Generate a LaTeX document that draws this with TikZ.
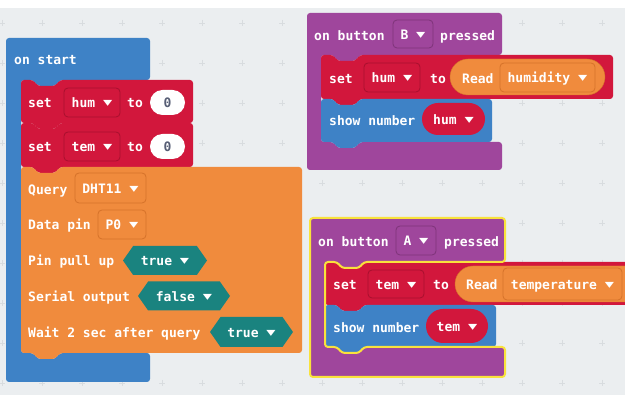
\documentclass[tikz,border=0pt]{standalone}
\usepackage{fontspec}
\setmainfont{DejaVu Sans Mono}
\newfontfamily\arrfont{DejaVu Sans}
\usetikzlibrary{shapes.misc,shapes.symbols}

\definecolor{canvas}{HTML}{EBEEF0}
\definecolor{gridc}{HTML}{D8DCDF}
\definecolor{basicblue}{HTML}{3E82C6}
\definecolor{varred}{HTML}{D2173C}
\definecolor{varredd}{HTML}{A8102E}
\definecolor{dhtorange}{HTML}{F08B3D}
\definecolor{dhtoranged}{HTML}{D5722A}
\definecolor{inpurple}{HTML}{9F469C}
\definecolor{inpurpled}{HTML}{7E3479}
\definecolor{logicteal}{HTML}{1A837F}
\definecolor{selyellow}{HTML}{F9E23C}
\definecolor{valgray}{HTML}{575E75}

\newcommand{\ddarr}{\raisebox{1pt}{\scalebox{1.15}[0.75]{\arrfont\fontsize{16}{15}\selectfont ▾}}}

% stack block: colour, left, top, right, bottom
\newcommand{\stackblock}[5]{%
  \fill[#1, rounded corners=3pt] (#2,{#3+10}) -- (#2,#3) -- ({#2+12},#3) -- ({#2+17},{#3+6})
    -- ({#2+34},{#3+6}) -- ({#2+39},#3) -- (#4,#3) -- (#4,#5) -- ({#2+39},#5)
    -- ({#2+34},{#5+6}) -- ({#2+17},{#5+6}) -- ({#2+12},#5) -- (#2,#5) -- cycle;}

% event block: options, left, top, right, bar bottom, spine, lower bar top, bottom
\newcommand{\hatblock}[8]{%
  \path[#1, rounded corners=3pt] (#2,{#3+10}) -- (#2,#3) -- (#4,#3) -- (#4,#5) -- ({#6+39},#5)
    -- ({#6+34},{#5+6}) -- ({#6+17},{#5+6}) -- ({#6+12},#5) -- (#6,#5) -- (#6,#7)
    -- ({#6+12},#7) -- ({#6+17},{#7+6}) -- ({#6+34},{#7+6}) -- ({#6+39},#7) -- (#4,#7)
    -- (#4,#8) -- (#2,#8) -- cycle;}

\tikzstyle{lbl} = [text=white, inner sep=0pt, anchor=west]
\tikzstyle{dd} = [rectangle, rounded corners=4pt, line width=0.8pt, text=white,
    inner sep=0pt, minimum height=29pt]
\tikzstyle{pill} = [rounded rectangle, inner sep=0pt, text=white, minimum height=32pt]
\tikzstyle{hexv} = [signal, signal to=east and west, signal pointer angle=110,
    fill=logicteal, text=white, inner sep=0pt, minimum height=29pt]

\begin{document}
\begin{tikzpicture}[x=1pt,y=-1pt,font=\fontsize{13}{15}\selectfont\bfseries,
                    every node/.style={text height=12pt,text depth=1pt}]
  \useasboundingbox (0,0) rectangle (625,395);
  \fill[white] (0,0) rectangle (625,395);
  \fill[canvas] (0,8) rectangle (625,395);
  \foreach \gx in {0,...,15}
    \foreach \gy in {0,...,9}
      \draw[gridc, line width=0.8pt] ({-1+40*\gx},{23+40*\gy}) -- ++(6,0)
                                     ({2+40*\gx},{20+40*\gy}) -- ++(0,6);

  % on start
  \hatblock{fill=basicblue}{6}{38}{150}{80}{21}{353}{382}
  \stackblock{varred}{21}{80}{193}{123}
  \stackblock{varred}{21}{123}{193}{167}
  \stackblock{dhtorange}{21}{167}{302}{353}

  \node[lbl] (onstart) at (14,59) {on start};
  \node[lbl] (sethum) at (28,102) {set};
  \node[dd, fill=varred, draw=varredd, minimum width=56pt] (humvar) at (92,102.5) {hum \ddarr};
  \node[lbl] (tohum) at (127,102) {to};
  \node[pill, fill=white, text=valgray, minimum width=35pt, minimum height=25pt] (humzero) at (167.5,102.5) {0};
  \node[lbl] (settem) at (28,146) {set};
  \node[dd, fill=varred, draw=varredd, minimum width=56pt] (temvar) at (92,146.5) {tem \ddarr};
  \node[lbl] (totem) at (127,146) {to};
  \node[pill, fill=white, text=valgray, minimum width=35pt, minimum height=25pt] (temzero) at (167.5,146.5) {0};

  \node[lbl] (query) at (28,189) {Query};
  \node[dd, fill=dhtorange, draw=dhtoranged, minimum width=71pt, minimum height=30pt] (dhtsel) at (110.5,188) {DHT11 \ddarr};
  \node[lbl] (datapin) at (28,224) {Data pin};
  \node[dd, fill=dhtorange, draw=dhtoranged, minimum width=48pt] (pinsel) at (122,224.5) {P0 \ddarr};
  \node[lbl] (pullup) at (28,260) {Pin pull up};
  \node[hexv, minimum width=84pt] (pullval) at (165,260.5) {true \ddarr};
  \node[lbl] (serial) at (28,296) {Serial output};
  \node[hexv, minimum width=92pt] (serialval) at (184,296) {false \ddarr};
  \node[lbl] (waitq) at (28,332) {Wait 2 sec after query};
  \node[hexv, minimum width=83pt, minimum height=30pt] (waitval) at (251.5,332) {true \ddarr};

  % on button B pressed
  \hatblock{fill=inpurple}{307}{13}{502}{55}{321}{142}{170}
  \stackblock{varred}{321}{55}{613}{99}
  \stackblock{basicblue}{321}{99}{492}{142}

  \node[lbl] (onbtnb) at (314,35) {on button};
  \node[dd, fill=inpurple, draw=inpurpled, minimum width=40pt, minimum height=28pt] (btnb) at (413,34) {B \ddarr};
  \node[lbl] (pressedb) at (440,35) {pressed};
  \node[lbl] (setb) at (329,78) {set};
  \node[dd, fill=varred, draw=varredd, minimum width=56pt] (humb) at (392,77.5) {hum \ddarr};
  \node[lbl] (tob) at (430,78) {to};
  \node[pill, fill=dhtorange, draw=dhtoranged, minimum width=155pt, minimum height=36pt] (readhum) at (527.5,77) {};
  \node[lbl] (readb) at (462,78) {Read};
  \node[dd, fill=dhtorange, draw=dhtoranged, minimum width=95pt] (humsel) at (547.5,77.5) {humidity \ddarr};
  \node[lbl] (shownumb) at (329,120) {show number};
  \node[pill, fill=varred, minimum width=63pt] (showhum) at (453.5,119) {hum \ddarr};

  % on button A pressed (selected)
  \hatblock{fill=inpurple}{310}{218}{505}{262}{325}{347}{377}
  \stackblock{varred}{325}{262}{640}{305}
  \stackblock{basicblue}{325}{305}{496}{347}
  \hatblock{draw=selyellow, line width=2pt}{310}{218}{505}{262}{325}{347}{377}

  \node[lbl] (onbtna) at (318,241) {on button};
  \node[dd, fill=inpurple, draw=inpurpled, minimum width=40pt] (btna) at (416,240.5) {A \ddarr};
  \node[lbl] (presseda) at (444,241) {pressed};
  \node[lbl] (seta) at (333,284) {set};
  \node[dd, fill=varred, draw=varredd, minimum width=56pt, minimum height=28pt] (tema) at (396,284) {tem \ddarr};
  \node[lbl] (toa) at (433,284) {to};
  \node[pill, fill=dhtorange, draw=dhtoranged, minimum width=190pt, minimum height=36pt] (readtem) at (550,284) {};
  \node[lbl] (reada) at (466,284) {Read};
  \node[dd, fill=dhtorange, draw=dhtoranged, minimum width=119pt, minimum height=32pt] (temsel) at (562.5,284) {temperature \ddarr};
  \node[lbl] (shownuma) at (333,327) {show number};
  \node[pill, fill=varred, minimum width=62pt, minimum height=34pt] (showtem) at (457,326) {tem \ddarr};
\end{tikzpicture}
\end{document}
